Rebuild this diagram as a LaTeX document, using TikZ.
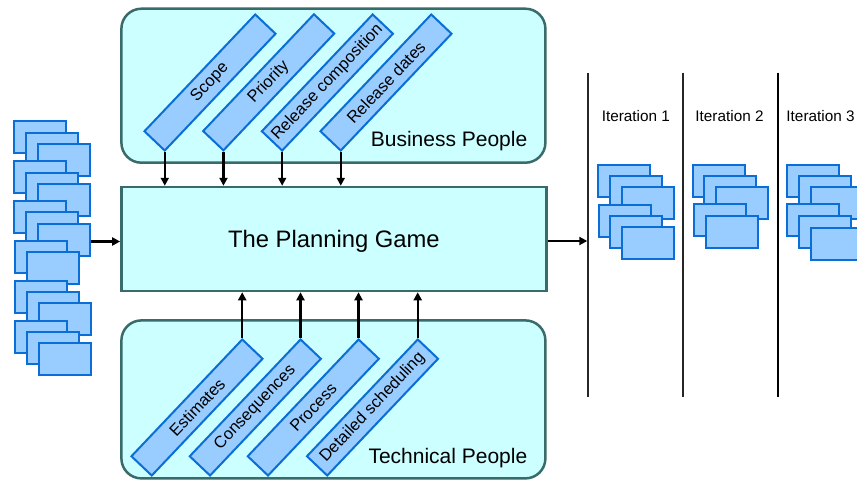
\documentclass[tikz,border=0pt]{standalone}
\usepackage{fontspec}
\setmainfont{Liberation Sans}
\usetikzlibrary{arrows.meta}

\definecolor{cardfill}{HTML}{99CCFF}
\definecolor{cardline}{HTML}{0A6ED6}
\definecolor{panelfill}{HTML}{CCFFFF}
\definecolor{panelline}{HTML}{3A6B6B}

\tikzset{
  card/.style={draw=cardline, fill=cardfill, line width=2pt,
    minimum width=52pt, minimum height=32pt, inner sep=0pt},
  topic/.style={draw=cardline, fill=cardfill, line width=2pt, rotate=46.5,
    minimum width=161pt, minimum height=28pt, inner sep=0pt,
    font=\fontsize{16.5}{19}\selectfont},
  panel/.style={draw=panelline, fill=panelfill, line width=2.5pt,
    rounded corners=20pt, minimum width=424pt, inner sep=0pt},
  gamebox/.style={draw=panelline, fill=panelfill, line width=2.5pt,
    minimum width=425pt, minimum height=104pt, inner sep=0pt,
    font=\fontsize{23.8}{28}\selectfont},
  paneltitle/.style={anchor=east, inner sep=0pt, font=\fontsize{21}{25}\selectfont},
  itlabel/.style={inner sep=0pt, font=\fontsize{15.3}{18}\selectfont},
  flow/.style={line width=2.2pt, -{Triangle[length=8pt,width=8pt]}},
  divider/.style={line width=2pt, draw=black!85},
}

\begin{document}
\begin{tikzpicture}[x=1pt,y=-1pt]
\useasboundingbox (0,0) rectangle (857,482);
\clip (0,0) rectangle (857,482);

% panels for the two groups of people
\node[panel, minimum height=154pt] (business) at (333.4,85.7) {};
\node[panel, minimum height=158pt] (technical) at (333.4,399.4) {};
\node[paneltitle] (bplabel) at (527.5,141) {Business People};
\node[paneltitle] (tplabel) at (527.5,458.5) {Technical People};

% central box
\node[gamebox] (main) at (333.9,239) {};
\node[inner sep=0pt, font=\fontsize{23.8}{28}\selectfont] (title) at (333.9,241) {The Planning Game};

% business topics
\node[topic] (scope)    at (210.0,82.5) {Scope};
\node[topic] (priority) at (268.7,82.3) {Priority};
\node[topic] (relcomp)  at (327.4,82.5) {Release composition};
\node[topic] (reldates) at (386.0,82.5) {Release dates};

% technical topics
\node[topic] (estimates) at (197.0,407.5) {Estimates};
\node[topic] (conseq)    at (255.3,407.5) {Consequences};
\node[topic] (process)   at (313.3,407.5) {Process};
\node[topic] (detsched)  at (372.5,407.5) {Detailed scheduling};

% business topics feed the game from above
\foreach \t in {scope,priority,relcomp,reldates}
  \draw[flow] (\t.south west) -- (\t.south west |- main.north);
% technical topics feed the game from below
\foreach \t in {estimates,conseq,process,detsched}
  \draw[flow] (\t.north east) -- (\t.north east |- main.south);

% story card backlog
\foreach \n/\x/\y in {
  s11/40/137, s12/52/148.5, s13/64/160,
  s21/40/177, s22/52/188.5, s23/64/200,
  s31/40/217, s32/52/228, s33/64/239.5,
  s41/40.5/256.5, s42/52.5/268,
  s51/40.5/297, s52/52.5/308, s53/64.5/319,
  s61/40.5/336.5, s62/52.5/348, s63/64.5/359}
  \node[card] (\n) at (\x,\y) {};

\draw[flow] (s33.east |- 0,241.5) coordinate (backlog) -- (backlog -| main.west);

% iteration dividers
\coordinate (v1t) at (588.3,72.7);  \coordinate (v1b) at (588.3,396.7);
\coordinate (v2t) at (683.3,72.7);  \coordinate (v2b) at (683.3,396.7);
\coordinate (v3t) at (778.3,72.7);  \coordinate (v3b) at (778.3,396.7);
\draw[divider] (v1t) -- (v1b);
\draw[divider] (v2t) -- (v2b);
\draw[divider, draw=black] (v3t) -- (v3b);

\draw[flow, shorten >=1pt] (main.east |- 0,241) coordinate (out) -- (out -| v1t);

\node[itlabel] (it1) at (635.8,116) {Iteration 1};
\node[itlabel] (it2) at (729.5,116) {Iteration 2};
\node[itlabel] (it3) at (820.5,116) {Iteration 3};

% cards planned into each iteration
\foreach \n/\x/\y in {
  a1/624/181, a2/636/192, a3/648/203,
  a4/624.5/220.5, a5/636/232, a6/648/243,
  b1/718.7/181, b2/730.3/192, b3/742.3/203,
  b4/719.7/220.3, b5/731.7/231.5,
  c1/813/181, c2/825/192, c3/837/203,
  c4/813/220.3, c5/825/231.5, c6/837/243.5}
  \node[card] (\n) at (\x,\y) {};
\end{tikzpicture}
\end{document}
